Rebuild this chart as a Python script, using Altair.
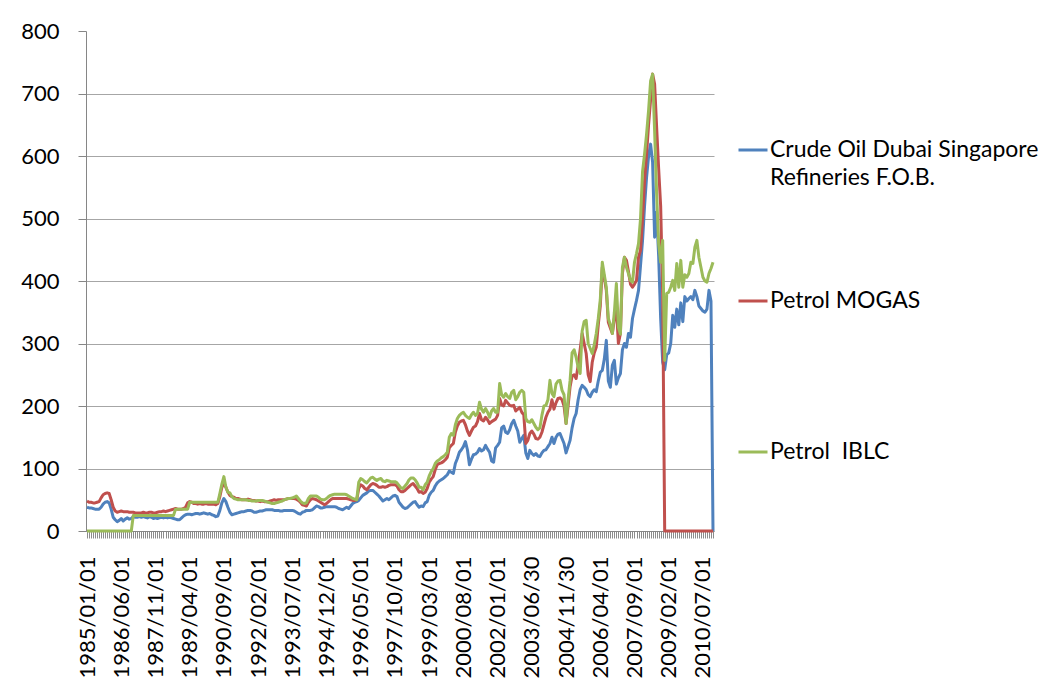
import json
import altair as alt
import pandas as pd

# ---------------- data ----------------
years = list(range(1985, 2011))
month_nums = list(range(1, 13))
day_overrides = {"2003/06": "30", "2004/11": "30"}
categories = []
for y in years:
    for m in month_nums:
        key = f"{y}/{m:02d}"
        categories.append(f"{key}/{day_overrides.get(key, '01')}")

label_every = 17
shown_labels = categories[::label_every]

crude = [
    38, 37, 37, 36, 35, 35, 35, 38, 43, 46,
    47, 45, 35, 22, 18, 15, 17, 20, 16, 19,
    21, 19, 20, 23, 22, 22, 23, 22, 23, 22,
    21, 23, 22, 20, 21, 20, 21, 22, 21, 22,
    21, 22, 21, 20, 19, 18, 18, 21, 24, 26,
    27, 27, 26, 27, 28, 28, 27, 28, 29, 28,
    27, 28, 26, 25, 23, 24, 33, 45, 52, 47,
    38, 30, 26, 27, 28, 29, 30, 31, 31, 32,
    33, 33, 32, 30, 30, 31, 32, 32, 33, 34,
    34, 34, 34, 33, 33, 33, 32, 32, 33, 33,
    33, 33, 33, 32, 30, 28, 27, 30, 31, 33,
    33, 33, 34, 37, 40, 39, 37, 37, 38, 39,
    39, 39, 39, 39, 38, 36, 35, 34, 36, 38,
    36, 40, 44, 46, 47, 49, 53, 57, 59, 61,
    64, 65, 65, 62, 59, 56, 52, 48, 50, 52,
    50, 53, 56, 57, 55, 46, 42, 38, 36, 37,
    40, 43, 46, 47, 42, 38, 40, 39, 45, 47,
    57, 62, 65, 72, 77, 80, 82, 84, 87, 90,
    96, 94, 92, 108, 116, 126, 130, 135, 143, 130,
    106, 115, 122, 123, 126, 132, 128, 130, 137, 131,
    126, 112, 110, 133, 137, 142, 165, 168, 158, 156,
    162, 172, 177, 168, 160, 142, 148, 153, 125, 116,
    129, 124, 121, 124, 120, 119, 125, 129, 130, 135,
    140, 150, 140, 150, 155, 156, 148, 140, 125, 135,
    145, 165, 180, 188, 210, 226, 233, 230, 226, 218,
    215, 222, 226, 223, 240, 254, 257, 275, 305, 240,
    230, 265, 273, 235, 245, 252, 290, 300, 294, 316,
    310, 340, 355, 369, 385, 425, 465, 520, 566, 600,
    619, 590, 470, 510, 440, 340, 270, 258, 282, 285,
    300, 345, 326, 355, 330, 365, 335, 375, 368, 372,
    375, 370, 385, 375, 360, 356, 352, 350, 355, 385,
    368, 0,
]

mogas = [
    48, 46, 46, 45, 45, 46, 47, 53, 58, 60,
    61, 60, 50, 38, 32, 30, 31, 32, 31, 31,
    31, 30, 30, 30, 29, 29, 29, 29, 30, 29,
    29, 30, 30, 29, 29, 30, 31, 31, 32, 31,
    32, 33, 34, 35, 36, 35, 35, 35, 36, 38,
    45, 47, 46, 44, 44, 43, 44, 43, 43, 44,
    43, 43, 43, 43, 42, 44, 55, 70, 77, 70,
    62, 57, 55, 54, 52, 52, 51, 50, 50, 50,
    51, 50, 49, 49, 48, 48, 47, 48, 47, 47,
    47, 48, 49, 50, 49, 50, 50, 50, 50, 51,
    52, 52, 52, 52, 51, 49, 46, 42, 41, 40,
    46, 50, 52, 51, 50, 48, 46, 44, 42, 44,
    47, 50, 52, 52, 52, 52, 52, 52, 52, 52,
    51, 50, 49, 49, 50, 68, 74, 72, 68, 66,
    70, 74, 76, 75, 73, 70, 70, 71, 70, 71,
    73, 74, 74, 74, 72, 66, 63, 63, 65, 68,
    71, 74, 76, 72, 68, 62, 63, 60, 62, 68,
    78, 83, 87, 98, 106, 108, 109, 111, 114, 118,
    133, 137, 140, 158, 168, 174, 176, 177, 170, 160,
    153, 160, 166, 168, 175, 188, 178, 176, 182, 178,
    172, 175, 177, 179, 185, 212, 202, 200, 209, 205,
    201, 200, 201, 192, 195, 198, 190, 186, 140, 145,
    156, 160, 155, 148, 147, 150, 158, 170, 182, 190,
    195, 210, 195, 205, 212, 213, 210, 200, 172, 200,
    231, 248, 250, 244, 265, 290, 316, 300, 284, 250,
    239, 270, 285, 294, 330, 360, 422, 405, 385, 334,
    325, 316, 340, 358, 300, 316, 412, 438, 433, 415,
    395, 390, 395, 401, 438, 449, 500, 560, 603, 650,
    690, 731, 715, 646, 580, 520, 380, 0, 0, 0,
    0, 0, 0, 0, 0, 0, 0, 0, 0, 0,
    0, 0, 0, 0, 0, 0, 0, 0, 0, 0,
    0, 0,
]

iblc = [
    0, 0, 0, 0, 0, 0, 0, 0, 0, 0,
    0, 0, 0, 0, 0, 0, 0, 0, 0, 0,
    0, 0, 0, 25, 25, 25, 25, 25, 25, 25,
    25, 25, 25, 25, 25, 25, 25, 25, 25, 25,
    25, 25, 25, 25, 35, 35, 35, 35, 35, 35,
    35, 46, 46, 46, 46, 46, 46, 46, 46, 46,
    46, 46, 46, 46, 46, 46, 60, 75, 87, 70,
    62, 61, 55, 52, 51, 50, 50, 50, 50, 50,
    49, 49, 48, 48, 48, 49, 49, 49, 48, 47,
    46, 45, 44, 44, 45, 46, 47, 48, 50, 51,
    52, 52, 53, 54, 56, 52, 48, 45, 44, 45,
    52, 56, 56, 56, 56, 54, 51, 50, 50, 52,
    55, 57, 58, 59, 59, 59, 59, 59, 59, 58,
    56, 54, 52, 51, 50, 78, 84, 82, 79, 77,
    81, 85, 86, 83, 81, 83, 84, 80, 79, 81,
    80, 79, 79, 79, 77, 73, 69, 68, 72, 76,
    82, 85, 85, 82, 77, 70, 70, 66, 74, 78,
    88, 95, 100, 108, 112, 114, 117, 119, 122, 126,
    150, 156, 153, 170, 180, 185, 188, 190, 185, 182,
    180, 186, 190, 185, 188, 206, 195, 190, 196, 190,
    182, 192, 196, 190, 190, 236, 218, 214, 220, 215,
    212, 222, 225, 210, 215, 222, 225, 222, 180, 175,
    174, 178, 172, 166, 162, 165, 185, 200, 201, 210,
    241, 220, 215, 235, 240, 241, 225, 218, 172, 210,
    241, 285, 290, 278, 262, 252, 320, 335, 337, 300,
    292, 284, 298, 316, 340, 370, 430, 410, 390, 340,
    330, 316, 350, 396, 326, 315, 422, 438, 422, 412,
    401, 398, 430, 444, 460, 500, 575, 603, 635, 673,
    720, 731, 640, 540, 460, 430, 465, 273, 380, 382,
    390, 401, 385, 428, 390, 433, 390, 410, 406, 412,
    430, 428, 454, 465, 438, 422, 406, 400, 398, 412,
    420, 430,
]

series_names = [
    "Crude Oil Dubai Singapore Refineries F.O.B.",
    "Petrol MOGAS",
    "Petrol\u00a0 IBLC",
]
series_colors = ["#4F81BD", "#C0504D", "#9BBB59"]
y_ticks = [0, 100, 200, 300, 400, 500, 600, 700, 800]

assert len(categories) == len(crude) == len(mogas) == len(iblc) == 312

rows = []
for name, vals in zip(series_names, [crude, mogas, iblc]):
    for c, v in zip(categories, vals):
        rows.append({"date": c, "series": name, "value": v})
df = pd.DataFrame(rows)

# ---------------- chart ----------------
FONT = "Lato"
label_expr = "indexof(" + json.dumps(shown_labels) + ", datum.value) >= 0 ? datum.value : ''"
legend_expr = (
    "datum.label == '" + series_names[0] + "' ? "
    "['Crude Oil Dubai Singapore', 'Refineries F.O.B.'] : datum.label"
)

x_enc = alt.X(
    "date:O",
    scale=alt.Scale(domain=categories),
    axis=alt.Axis(
        title=None,
        labelAngle=270,
        labelFont=FONT,
        labelFontSize=22,
        labelColor="black",
        labelPadding=18,
        labelOverlap=False,
        labelExpr=label_expr,
        tickSize=7,
        tickColor="#8C8C8C",
        domainColor="#868686",
        grid=False,
    ),
)
y_enc = alt.Y(
    "value:Q",
    scale=alt.Scale(domain=[0, 800], nice=False),
    axis=alt.Axis(
        title=None,
        values=y_ticks,
        labelFont=FONT,
        labelFontSize=22,
        labelColor="black",
        labelPadding=19,
        tickSize=8,
        tickColor="#868686",
        domainColor="#868686",
        gridColor="#A6A6A6",
        gridOpacity=alt.condition("datum.value == 800", alt.value(0), alt.value(1)),
    ),
)
color_enc = alt.Color(
    "series:N",
    scale=alt.Scale(domain=series_names, range=series_colors),
    legend=alt.Legend(
        title=None,
        orient="none",
        legendX=651,
        legendY=79,
        padding=0,
        symbolType="stroke",
        symbolSize=841,
        symbolStrokeWidth=3,
        labelFont=FONT,
        labelFontSize=23,
        labelColor="black",
        labelOffset=1,
        labelLimit=400,
        clipHeight=80,
        rowPadding=71,
        labelExpr=legend_expr,
    ),
)

layers = [
    alt.Chart(df)
    .transform_filter(alt.datum.series == name)
    .mark_line(strokeWidth=3, strokeJoin="round")
    .encode(x=x_enc, y=y_enc, color=color_enc)
    for name in series_names
]

chart = (
    alt.layer(*layers)
    .properties(
        width=628,
        height=500,
        autosize=alt.AutoSizeParams(type="none"),
        padding={"left": 78, "top": 23, "right": 328, "bottom": 147},
    )
    .configure(style={"guide-label": {"lineHeight": 28}})
    .configure_view(stroke=None)
)

chart.save("out.html", embed_options={"renderer": "svg", "actions": False})
